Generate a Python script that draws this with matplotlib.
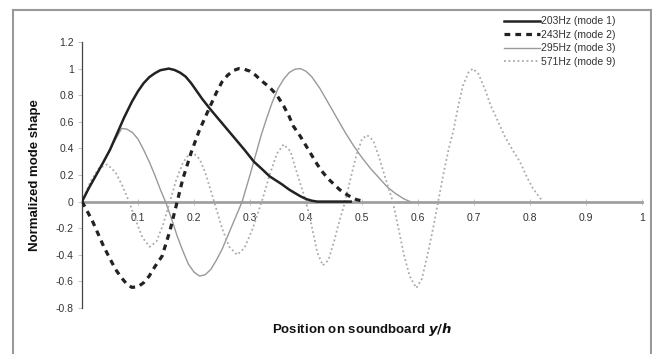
import matplotlib
matplotlib.use("Agg")
import matplotlib.pyplot as plt
from matplotlib.lines import Line2D

plt.rcParams['font.family'] = ['Liberation Sans', 'DejaVu Sans']

# Mode 1 (203 Hz)
x1 = [0.0, 0.012, 0.024, 0.036, 0.05, 0.0625, 0.075, 0.089, 0.10, 0.11, 0.12, 0.13,
      0.14, 0.155, 0.165, 0.175, 0.185, 0.195, 0.205, 0.215, 0.23, 0.25, 0.27, 0.29,
      0.307, 0.32, 0.335, 0.357, 0.37, 0.38, 0.39, 0.40, 0.41, 0.42, 0.48]
y1 = [0.0, 0.10, 0.19, 0.28, 0.39, 0.51, 0.63, 0.75, 0.83, 0.89, 0.935, 0.965,
      0.988, 1.0, 0.99, 0.97, 0.94, 0.89, 0.83, 0.77, 0.69, 0.59, 0.49, 0.39,
      0.30, 0.25, 0.19, 0.13, 0.09, 0.065, 0.04, 0.02, 0.007, 0.0, 0.0]

# Mode 2 (243 Hz)
x2 = [0.0, 0.018, 0.039, 0.05, 0.06, 0.07, 0.08, 0.089, 0.10, 0.11, 0.12, 0.13,
      0.143, 0.157, 0.17, 0.18, 0.195, 0.209, 0.227, 0.24, 0.25, 0.26, 0.27, 0.28,
      0.29, 0.30, 0.31, 0.32, 0.335, 0.348, 0.36, 0.37, 0.377, 0.39, 0.40, 0.41,
      0.42, 0.43, 0.44, 0.45, 0.46, 0.47, 0.48, 0.49, 0.50]
y2 = [0.0, -0.14, -0.34, -0.43, -0.51, -0.57, -0.62, -0.645, -0.64, -0.61, -0.56, -0.49,
      -0.41, -0.22, 0.0, 0.17, 0.37, 0.53, 0.70, 0.82, 0.90, 0.95, 0.985, 1.0,
      0.995, 0.98, 0.95, 0.91, 0.86, 0.80, 0.72, 0.64, 0.57, 0.49, 0.42, 0.35,
      0.28, 0.22, 0.17, 0.13, 0.09, 0.06, 0.035, 0.015, 0.005]

# Mode 3 (295 Hz)
x3 = [0.0, 0.012, 0.024, 0.036, 0.05, 0.06, 0.071, 0.08, 0.09, 0.10, 0.11, 0.12,
      0.13, 0.14, 0.149, 0.16, 0.17, 0.18, 0.19, 0.20, 0.21, 0.22, 0.23, 0.24, 0.25,
      0.26, 0.27, 0.286, 0.30, 0.31, 0.32, 0.33, 0.34, 0.35, 0.36, 0.37, 0.38, 0.39,
      0.40, 0.41, 0.425, 0.44, 0.455, 0.47, 0.485, 0.50, 0.515, 0.53, 0.545, 0.56,
      0.575, 0.586]
y3 = [0.0, 0.10, 0.19, 0.28, 0.39, 0.47, 0.55, 0.545, 0.52, 0.47, 0.39, 0.30,
      0.20, 0.09, 0.0, -0.13, -0.26, -0.37, -0.47, -0.53, -0.56, -0.55, -0.51, -0.44, -0.36,
      -0.26, -0.16, 0.0, 0.20, 0.35, 0.50, 0.63, 0.75, 0.85, 0.92, 0.97, 0.995, 1.0,
      0.98, 0.94, 0.85, 0.74, 0.63, 0.52, 0.42, 0.33, 0.25, 0.18, 0.11, 0.06,
      0.02, 0.0]

# Mode 9 (571 Hz)
x9 = [0.0, 0.015, 0.03, 0.045, 0.06, 0.072, 0.084, 0.095, 0.108, 0.121, 0.133, 0.145,
      0.157, 0.168, 0.18, 0.19, 0.20, 0.21, 0.22, 0.236, 0.25, 0.263, 0.277, 0.29,
      0.305, 0.321, 0.335, 0.348, 0.36, 0.372, 0.385, 0.40, 0.41, 0.42, 0.43, 0.44,
      0.45, 0.46, 0.47, 0.48, 0.49, 0.50, 0.509, 0.52, 0.53, 0.54, 0.555, 0.565,
      0.575, 0.585, 0.597, 0.607, 0.617, 0.627, 0.636, 0.645, 0.655, 0.663, 0.672,
      0.68, 0.69, 0.698, 0.708, 0.72, 0.73, 0.741, 0.755, 0.77, 0.782, 0.795, 0.805,
      0.812, 0.823]
y9 = [0.0, 0.15, 0.25, 0.28, 0.22, 0.12, 0.0, -0.13, -0.27, -0.34, -0.30, -0.17,
      0.0, 0.16, 0.29, 0.35, 0.36, 0.32, 0.22, 0.0, -0.20, -0.34, -0.40, -0.35,
      -0.20, 0.0, 0.20, 0.36, 0.43, 0.38, 0.20, 0.0, -0.18, -0.38, -0.48, -0.44,
      -0.30, -0.14, 0.0, 0.18, 0.35, 0.47, 0.50, 0.46, 0.34, 0.20, 0.0, -0.20,
      -0.40, -0.56, -0.65, -0.58, -0.40, -0.20, 0.0, 0.20, 0.40, 0.53, 0.72,
      0.87, 0.97, 1.0, 0.96, 0.84, 0.72, 0.62, 0.49, 0.38, 0.30, 0.18, 0.10,
      0.06, 0.0]

labels = ["203Hz (mode 1)", "243Hz (mode 2)", "295Hz (mode 3)", "571Hz (mode 9)"]
xticks = [0.1, 0.2, 0.3, 0.4, 0.5, 0.6, 0.7, 0.8, 0.9, 1]
xticklabels = ["0.1", "0.2", "0.3", "0.4", "0.5", "0.6", "0.7", "0.8", "0.9", "1"]
yticks = [-0.8, -0.6, -0.4, -0.2, 0, 0.2, 0.4, 0.6, 0.8, 1, 1.2]
yticklabels = ["-0.8", "-0.6", "-0.4", "-0.2", "0", "0.2", "0.4", "0.6", "0.8", "1", "1.2"]

fig = plt.figure(figsize=(6.52, 3.54), dpi=100)
ax = fig.add_axes([82/652, 1-308/354, (642-82)/652, (308-42)/354])

ax.plot(x1, y1, color='#222222', lw=1.8, label=labels[0], zorder=5)
ax.plot(x2, y2, color='#222222', lw=2.3, ls=(0, (1.8, 1.6)), label=labels[1], zorder=5)
ax.plot(x3, y3, color='#999999', lw=1.0, label=labels[2], zorder=4)
ax.plot(x9, y9, color='#aaaaaa', lw=1.3, ls=(0, (1, 1.5)), label=labels[3], zorder=4)

ax.set_xlim(0, 1)
ax.set_ylim(-0.8, 1.2)
for s in ['top', 'right']:
    ax.spines[s].set_visible(False)
ax.spines['bottom'].set_position(('data', 0))
ax.spines['bottom'].set_color('#a0a0a0')
ax.spines['bottom'].set_linewidth(2.0)
ax.spines['bottom'].set_zorder(3)
ax.spines['left'].set_color('#444444')
ax.spines['left'].set_linewidth(0.9)

ax.set_xticks(xticks)
ax.set_xticklabels(xticklabels)
ax.set_yticks(yticks)
ax.set_yticklabels(yticklabels)
ax.tick_params(axis='x', direction='inout', length=4, width=0.6, color='#bbbbbb',
               labelsize=7.5, labelcolor='#333333', pad=6)
ax.tick_params(axis='y', direction='out', length=3, width=0.6, color='#bbbbbb',
               labelsize=7.5, labelcolor='#333333', pad=3)

fig.text(362/652, 1-330/354, "Position on soundboard $\\boldsymbol{y/h}$",
         ha='center', va='center', fontsize=9.5, fontweight='bold', color='#111111')
fig.text(35/652, 1-175/354, "Normalized mode shape", rotation=90,
         ha='center', va='center', fontsize=9.5, fontweight='bold', color='#111111')

leg = ax.legend(loc='upper right', bbox_to_anchor=(620/652, 1-12/354),
                bbox_transform=fig.transFigure, frameon=False, fontsize=7.5,
                handlelength=3.4, handletextpad=0.15, labelspacing=0.35,
                borderaxespad=0)
for t in leg.get_texts():
    t.set_color('#333333')

# figure frame (left, top, right)
fc = '#999999'
fig.add_artist(Line2D([13/652, 13/652], [0, 1-10/354], transform=fig.transFigure, color=fc, lw=1.5))
fig.add_artist(Line2D([13/652, 651/652], [1-10/354, 1-10/354], transform=fig.transFigure, color=fc, lw=1.5))
fig.add_artist(Line2D([651/652, 651/652], [0, 1-10/354], transform=fig.transFigure, color=fc, lw=1.5))

fig.savefig("out.png", dpi=100)
